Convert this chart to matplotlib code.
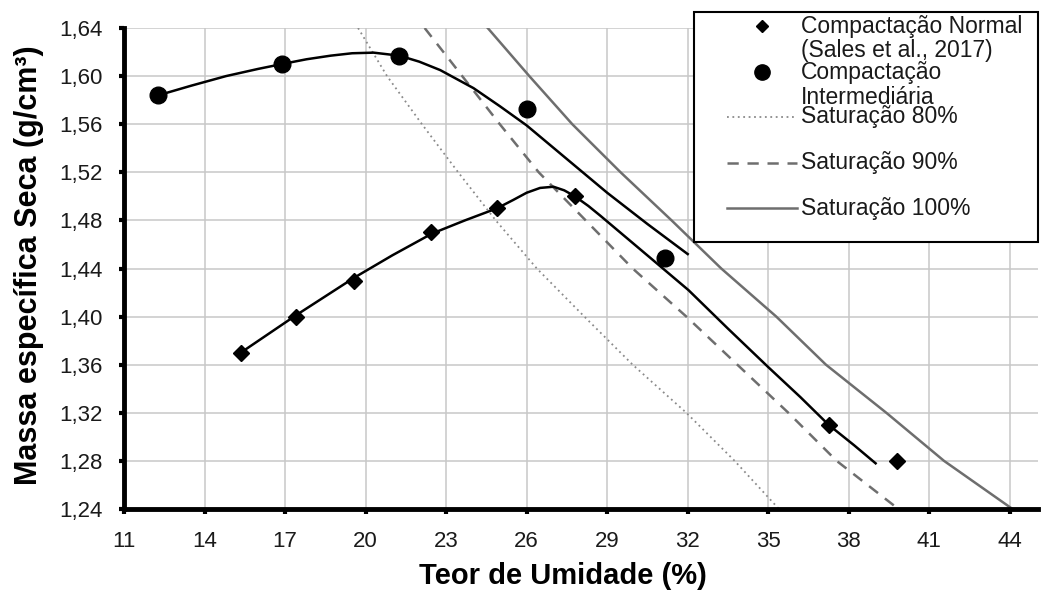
import matplotlib
matplotlib.use("Agg")
import matplotlib.pyplot as plt
from matplotlib.lines import Line2D
from matplotlib.patches import Rectangle
from matplotlib.ticker import FuncFormatter

plt.rcParams['font.family'] = ['Liberation Sans', 'DejaVu Sans']

# measured points
normal_w = [15.35, 17.4, 19.55, 22.45, 24.9, 27.8, 37.25, 39.8]
normal_rho = [1.370, 1.400, 1.430, 1.470, 1.490, 1.500, 1.310, 1.280]
interm_w = [12.27, 16.88, 21.26, 26.0, 31.16]
interm_rho = [1.584, 1.610, 1.617, 1.573, 1.449]

# trend curves
normal_fit_w = [15.35, 17.4, 19.55, 21.0, 22.47, 23.7, 24.89, 25.5, 26.0, 26.5, 27.0,
                27.4, 27.8, 28.3, 28.74, 30.6, 32.03, 33.5, 35.0, 36.2, 37.25, 38.2, 39.0]
normal_fit_rho = [1.370, 1.401, 1.432, 1.451, 1.469, 1.480, 1.490, 1.497, 1.503, 1.507, 1.508,
                  1.505, 1.500, 1.492, 1.484, 1.449, 1.422, 1.390, 1.358, 1.333, 1.310, 1.293, 1.278]
interm_fit_w = [12.27, 13.5, 14.8, 16.0, 16.88, 17.8, 18.7, 19.5, 20.3, 21.26, 22.0,
                22.78, 24.02, 25.0, 26.0, 27.5, 29.0, 30.5, 32.0]
interm_fit_rho = [1.584, 1.592, 1.600, 1.606, 1.610, 1.614, 1.617, 1.619, 1.6195, 1.617, 1.612,
                  1.605, 1.590, 1.575, 1.559, 1.531, 1.503, 1.477, 1.452]

# saturation curves
sat_rho = [1.64, 1.60, 1.56, 1.52, 1.48, 1.44, 1.40, 1.36, 1.32, 1.28, 1.24]
sat80_w = [19.72, 20.8, 22.1, 23.45, 24.85, 26.38, 28.15, 29.95, 31.95, 33.75, 35.4]
sat90_w = [22.2, 23.6, 25.0, 26.45, 28.2, 29.95, 31.95, 33.85, 35.75, 37.55, 39.85]
sat100_w = [24.55, 26.1, 27.7, 29.5, 31.4, 33.25, 35.3, 37.15, 39.4, 41.55, 44.1]

x_ticks = list(range(11, 45, 3))
y_ticks = [1.24, 1.28, 1.32, 1.36, 1.40, 1.44, 1.48, 1.52, 1.56, 1.60, 1.64]

W, H = 1043, 590
fig = plt.figure(figsize=(W / 100, H / 100), dpi=100)
ax = fig.add_axes([124 / W, 1 - 509 / H, (1038 - 124) / W, (509 - 28) / H])

grey = '#6e6e6e'
ax.plot(sat80_w, sat_rho, color='#8a8a8a', lw=1.3, ls=(0, (1, 2)), zorder=2)
ax.plot(sat90_w, sat_rho, color=grey, lw=1.8, ls=(0, (4.5, 3.5)), zorder=2)
ax.plot(sat100_w, sat_rho, color=grey, lw=1.8, zorder=2)

ax.plot(normal_fit_w, normal_fit_rho, color='black', lw=1.8, zorder=3)
ax.plot(interm_fit_w, interm_fit_rho, color='black', lw=1.8, zorder=3)
ax.plot(normal_w, normal_rho, 'D', color='black', ms=8, ls='none', zorder=4)
ax.plot(interm_w, interm_rho, 'o', color='black', ms=12, ls='none', zorder=4)

ax.set_xlim(11, 45.05)
ax.set_ylim(1.24, 1.64)
ax.set_xticks(x_ticks)
ax.set_yticks(y_ticks)
ax.yaxis.set_major_formatter(FuncFormatter(lambda v, p: f"{v:.2f}".replace('.', ',')))
ax.grid(True, color='#c8c8c8', lw=1.1)
ax.set_axisbelow(True)

for s in ['top', 'right']:
    ax.spines[s].set_visible(False)
for s in ['left', 'bottom']:
    ax.spines[s].set_linewidth(3.5)
ax.tick_params(axis='both', direction='out', length=3.5, width=3, labelsize=16, pad=12,
               labelcolor='#1a1a1a')

ax.set_xlabel('Teor de Umidade (%)', fontsize=21, fontweight='bold')
ax.xaxis.set_label_coords((563 - 124) / (1038 - 124), -0.11)
ax.set_ylabel('Massa específica Seca (g/cm³)', fontsize=22, fontweight='bold')
ax.yaxis.set_label_coords(-0.0875, 0.507)


# legend built by hand (Excel layout)
def px(x, y):
    return x / W, 1 - y / H


x0, y0 = px(694, 242)
x1, y1 = px(1038, 12)
fig.add_artist(Rectangle((x0, y0), x1 - x0, y1 - y0, transform=fig.transFigure,
                         facecolor='white', edgecolor='black', lw=1.5, zorder=10))

hx0, hx1 = 727, 797
mx, my = px(762, 26)
fig.add_artist(Line2D([mx], [my], marker='D', ms=6, color='black', ls='none',
                      transform=fig.transFigure, zorder=11))
mx, my = px(762, 72)
fig.add_artist(Line2D([mx], [my], marker='o', ms=11, color='black', ls='none',
                      transform=fig.transFigure, zorder=11))
for yy, st, col, lw in [(117, (0, (1, 2)), '#8a8a8a', 1.3),
                        (163, (0, (4.5, 3.5)), grey, 1.8),
                        (208, '-', grey, 1.8)]:
    a, b = px(hx0, yy)
    c, d = px(hx1, yy)
    fig.add_artist(Line2D([a, c], [b, d], ls=st, color=col, lw=lw,
                          transform=fig.transFigure, zorder=11))

legend_rows = [(26, 'Compactação Normal'), (50, '(Sales et al., 2017)'),
               (72, 'Compactação'), (97, 'Intermediária'),
               (117, 'Saturação 80%'), (163, 'Saturação 90%'), (208, 'Saturação 100%')]
for yy, txt in legend_rows:
    a, b = px(801, yy)
    fig.text(a, b, txt, fontsize=16.5, va='center', ha='left', color='#1a1a1a', zorder=12)

fig.savefig('out.png', dpi=100)
